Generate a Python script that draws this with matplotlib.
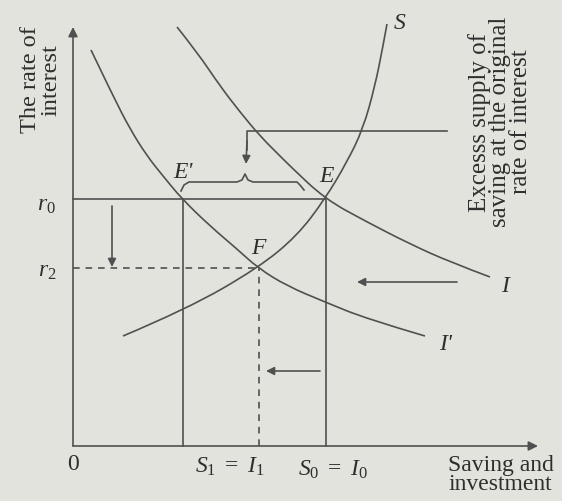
import matplotlib.pyplot as plt
from matplotlib.patches import FancyArrowPatch, PathPatch
from matplotlib.path import Path

plt.rcParams['font.family'] = 'Liberation Serif'
plt.rcParams['mathtext.fontset'] = 'custom'
plt.rcParams['mathtext.rm'] = 'Liberation Serif'
plt.rcParams['mathtext.it'] = 'Liberation Serif:italic'

# saving schedule S
s_x = [5.0, 11.4, 18.5, 22.4, 25.2, 27.4, 29.0, 30.2, 31.0, 31.4]
s_y = [11.0, 13.7, 17.8, 21.0, 24.7, 28.4, 31.7, 36.0, 40.0, 42.2]

# original investment schedule I
i_x = [10.4, 12.4, 14.7, 16.7, 18.7, 20.7, 21.7, 25.2, 29.4, 33.7, 37.7, 41.7]
i_y = [41.9, 39.4, 36.0, 33.4, 31.0, 29.0, 28.0, 24.7, 22.4, 20.2, 18.4, 16.9]

# investment after the shift, I'
i2_x = [1.8, 4.0, 5.7, 7.4, 9.0, 10.9, 13.7, 16.4, 18.5, 21.4, 25.2, 29.4, 35.2]
i2_y = [39.6, 35.0, 31.7, 29.0, 27.0, 24.7, 22.0, 19.7, 17.8, 16.0, 14.4, 12.7, 11.0]

r0 = 24.7
r2 = 17.8
x_e1 = 11.0   # E'
x_f = 18.5    # F
x_e = 25.2    # E

ink = '#505050'
txt = '#2e2e2e'
bg = '#e3e3dd'

fig = plt.figure(figsize=(5.62, 5.02), dpi=100, facecolor=bg)
ax = fig.add_axes([0, 0, 1, 1])
ax.set_facecolor(bg)
ax.set_xlim(-7.3, 48.9)
ax.set_ylim(-5.5, 44.7)
ax.axis('off')

lw = 1.2


def arrow(x0, y0, x1, y1, ms=12):
    ax.add_patch(FancyArrowPatch((x0, y0), (x1, y1), arrowstyle='-|>',
                                 mutation_scale=ms, color=ink, lw=lw,
                                 shrinkA=0, shrinkB=0))


def curve(xs, ys):
    # quadratic bezier through the read points, midpoints as anchors
    pts = list(zip(xs, ys))
    verts = [pts[0]]
    codes = [Path.MOVETO]
    for k in range(1, len(pts) - 1):
        nxt = pts[k + 1] if k == len(pts) - 2 else (
            (pts[k][0] + pts[k + 1][0]) / 2, (pts[k][1] + pts[k + 1][1]) / 2)
        verts += [pts[k], nxt]
        codes += [Path.CURVE3, Path.CURVE3]
    ax.add_patch(PathPatch(Path(verts, codes), fill=False, edgecolor=ink, lw=lw))


# axes
arrow(0, 0, 0, 41.9, 14)
arrow(0, 0, 46.5, 0, 14)

# curves
curve(s_x, s_y)
curve(i_x, i_y)
curve(i2_x, i2_y)

# r0 and equilibrium drops
ax.plot([0, x_e], [r0, r0], color=ink, lw=lw)
ax.plot([x_e1, x_e1], [0, r0], color=ink, lw=lw)
ax.plot([x_e + 0.1, x_e + 0.1], [0, r0], color=ink, lw=lw)
ax.plot([0, x_f], [r2, r2], color=ink, lw=lw, ls=(0, (4, 3.5)))
ax.plot([x_f + 0.1, x_f + 0.1], [0, r2], color=ink, lw=lw, ls=(0, (4, 3.5)))

# brace over the excess supply E'E
brace_x = [10.8, 11.1, 11.6, 16.4, 16.9, 17.2, 17.5, 18.0, 22.4, 22.7, 23.1]
brace_y = [25.5, 26.1, 26.4, 26.4, 26.6, 27.2, 26.6, 26.4, 26.4, 26.1, 25.6]
ax.plot(brace_x, brace_y, color=ink, lw=lw)

# leader from the side note down to the brace
ax.plot([37.4, 17.4, 17.4], [31.5, 31.5, 29.6], color=ink, lw=lw)
arrow(17.4, 30.5, 17.3, 28.2, 12)

# movement arrows
arrow(3.9, 24.0, 3.9, 17.9, 12)
arrow(38.4, 16.4, 28.4, 16.4, 12)
arrow(24.7, 7.5, 19.3, 7.5, 12)

fs = 17
ax.text(-3.2, 36.7, 'The rate of\ninterest', rotation=90, ha='center', va='center',
        fontsize=17.5, color=txt, linespacing=0.95)
ax.text(42.7, 32.5, 'Excesss supply of\nsaving at the original\nrate of interest',
        rotation=90, ha='center', va='center', fontsize=18, color=txt,
        linespacing=0.92)
ax.text(-2.7, 24.2, '$r_0$', ha='center', va='center', fontsize=fs, color=txt)
ax.text(-2.6, 17.5, '$r_2$', ha='center', va='center', fontsize=fs, color=txt)
ax.text(0.0, -1.8, '0', ha='center', va='center', fontsize=fs, color=txt)
ax.text(15.7, -2.0, r'$S_1\ =\ I_1$', ha='center', va='center', fontsize=fs, color=txt)
ax.text(26.0, -2.3, r'$S_0\ =\ I_0$', ha='center', va='center', fontsize=fs, color=txt)
ax.text(37.5, -2.8, 'Saving and\ninvestment', ha='left', va='center',
        fontsize=17, color=txt, linespacing=0.85)
ax.text(11.0, 27.4, "E'", ha='center', va='center', fontsize=fs, color=txt,
        fontstyle='italic')
ax.text(25.3, 27.1, 'E', ha='center', va='center', fontsize=fs, color=txt,
        fontstyle='italic')
ax.text(18.5, 19.8, 'F', ha='center', va='center', fontsize=fs, color=txt,
        fontstyle='italic')
ax.text(32.7, 42.4, 'S', ha='center', va='center', fontsize=fs, color=txt,
        fontstyle='italic')
ax.text(43.2, 16.1, 'I', ha='center', va='center', fontsize=fs, color=txt,
        fontstyle='italic')
ax.text(37.3, 10.3, "I'", ha='center', va='center', fontsize=fs, color=txt,
        fontstyle='italic')

fig.savefig('out.png', dpi=100, facecolor=bg)
